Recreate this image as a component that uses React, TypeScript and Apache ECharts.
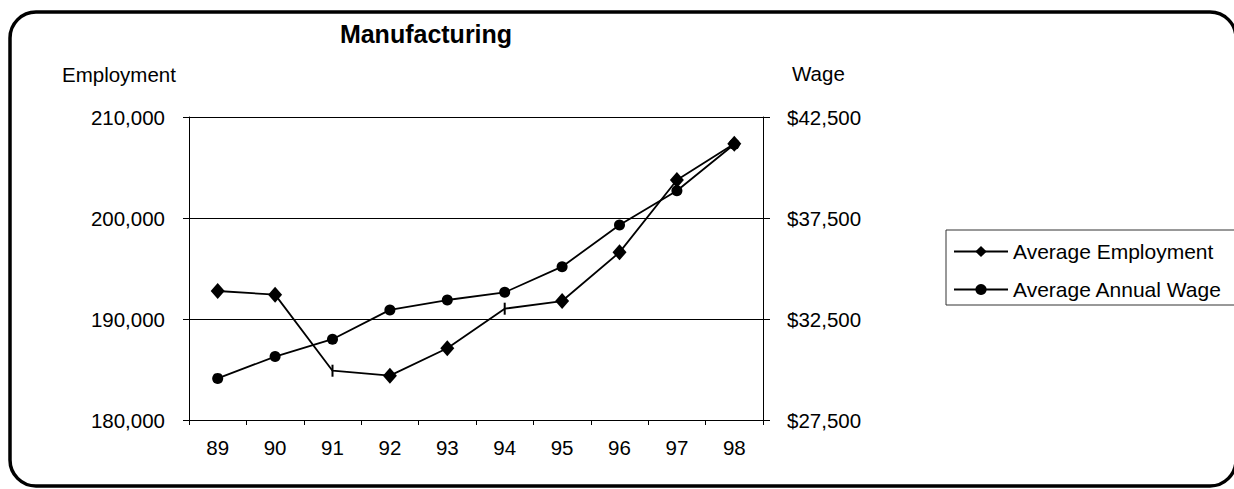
import React, { useEffect, useRef } from "react";
import * as echarts from "echarts";

const years = ["89", "90", "91", "92", "93", "94", "95", "96", "97", "98"];
const employment = [192770, 192410, 184880, 184390, 187100, 191020, 191780, 196600, 203760, 207350];
const wage = [29560, 30640, 31500, 32950, 33440, 33820, 35090, 37150, 38850, 41150];
const tickMarkYears = ["91", "94"];

const FONT = "'Liberation Sans', Arial, Helvetica, sans-serif";

const fmt = (v: number) => Math.round(v).toLocaleString("en-US");

export default function App() {
  const ref = useRef<HTMLDivElement>(null);
  useEffect(() => {
    if (!ref.current) return;
    const chart = echarts.init(ref.current, undefined, { renderer: "svg" });
    const empData = employment.map((v, i) =>
      tickMarkYears.includes(years[i])
        ? { value: v, symbol: "rect", symbolSize: [2, 12] }
        : { value: v }
    );
    chart.setOption({
      animation: false,
      backgroundColor: "#fff",
      textStyle: { fontFamily: FONT, color: "#000" },
      grid: { left: 189, top: 117, width: 574, height: 303, containLabel: false },
      legend: {
        orient: "vertical",
        left: 953,
        top: 241,
        padding: 0,
        itemWidth: 54,
        itemHeight: 14,
        itemGap: 17,
        textStyle: { fontFamily: FONT, fontSize: 21, color: "#000" },
        data: ["Average Employment", "Average Annual Wage"],
      },
      xAxis: {
        type: "category",
        data: years,
        boundaryGap: true,
        axisLine: { show: true, lineStyle: { color: "#000", width: 1 } },
        axisTick: { show: true, inside: false, length: 5, alignWithLabel: false, lineStyle: { color: "#000" } },
        axisLabel: { fontFamily: FONT, fontSize: 20.5, color: "#000", margin: 17 },
        splitLine: { show: false },
      },
      yAxis: [
        {
          type: "value",
          min: 180000,
          max: 210000,
          interval: 10000,
          position: "left",
          axisLine: { show: true, lineStyle: { color: "#000", width: 1 } },
          axisTick: { show: true, inside: false, length: 6, lineStyle: { color: "#000" } },
          axisLabel: { fontFamily: FONT, fontSize: 20.5, color: "#000", margin: 24, formatter: (v: number) => fmt(v) },
          splitLine: { show: true, lineStyle: { color: "#000", width: 1 } },
        },
        {
          type: "value",
          min: 27500,
          max: 42500,
          alignTicks: true,
          position: "right",
          axisLine: { show: true, lineStyle: { color: "#000", width: 1 } },
          axisTick: { show: true, inside: false, length: 7, lineStyle: { color: "#000" } },
          axisLabel: { fontFamily: FONT, fontSize: 20.5, color: "#000", margin: 24, formatter: (v: number) => "$" + fmt(v) },
          splitLine: { show: false },
        },
      ],
      series: [
        {
          name: "Average Employment",
          type: "line",
          yAxisIndex: 0,
          data: empData,
          symbol: "diamond",
          symbolSize: [14, 16],
          showAllSymbol: true,
          lineStyle: { color: "#000", width: 1.8 },
          itemStyle: { color: "#000" },
          z: 3,
        },
        {
          name: "Average Annual Wage",
          type: "line",
          yAxisIndex: 1,
          data: wage,
          symbol: "circle",
          symbolSize: 11,
          showAllSymbol: true,
          lineStyle: { color: "#000", width: 1.8 },
          itemStyle: { color: "#000" },
          z: 4,
        },
      ],
      graphic: [
        {
          type: "rect",
          shape: { x: 10, y: 12, width: 1226, height: 474, r: 26 },
          style: { fill: "none", stroke: "#000", lineWidth: 3.5 },
          silent: true,
          z: 100,
        },
        {
          type: "rect",
          shape: { x: 946, y: 230, width: 320, height: 75 },
          style: { fill: "none", stroke: "#333", lineWidth: 1 },
          silent: true,
        },
        {
          type: "text",
          x: 426,
          y: 34,
          style: { text: "Manufacturing", fontFamily: FONT, fontSize: 25, fontWeight: "bold", fill: "#000", textAlign: "center", textVerticalAlign: "middle" },
        },
        {
          type: "text",
          x: 62,
          y: 74,
          style: { text: "Employment", fontFamily: FONT, fontSize: 20.5, fill: "#000", textAlign: "left", textVerticalAlign: "middle" },
        },
        {
          type: "text",
          x: 792,
          y: 73,
          style: { text: "Wage", fontFamily: FONT, fontSize: 20.5, fill: "#000", textAlign: "left", textVerticalAlign: "middle" },
        },
      ],
    });
    return () => chart.dispose();
  }, []);
  return <div ref={ref} style={{ position: "fixed", left: 0, top: 0, width: 1234, height: 489 }} />;
}
